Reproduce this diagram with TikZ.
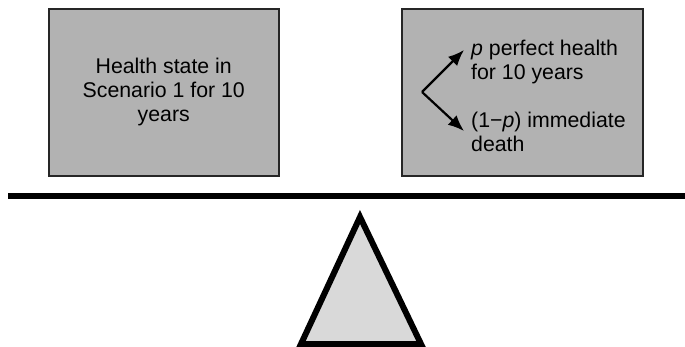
\documentclass[tikz,border=0pt]{standalone}
\usepackage{fontspec}
\setmainfont{Liberation Sans}
\usepackage{tikz}
\usetikzlibrary{arrows.meta}

\begin{document}
\begin{tikzpicture}[x=1pt,y=-1pt,
        caja/.style={draw=black!85, line width=1.5pt, fill=black!30,
                     minimum height=167pt, anchor=north west},
        texto/.style={font=\fontsize{21.3}{24}\selectfont, inner sep=0pt},
        flecha/.style={-{Latex[length=16pt,width=13pt]}, line width=2.2pt}]
        \useasboundingbox (0,0) rectangle (685,346);
        % Cajas de los dos escenarios
        \node[caja, minimum width=230pt] (estado) at (48,8) {};
        \node[caja, minimum width=241pt] (loteria) at (401,8) {};
        % Texto de la caja izquierda
        \node[texto, align=center] (estadoTxt) at (estado.center) {Health state in\\Scenario 1 for 10\\years};
        % Resultados de la loteria
        \node[texto, align=left, anchor=north west] (sano) at (471,40) {\textit{p} perfect health\\for 10 years};
        \node[texto, align=left, anchor=north west] (muerte) at (471,112) {(1−\textit{p}) immediate\\death};
        % Flechas de la loteria
        \coordinate (rama) at (422,92);
        \coordinate (puntaA) at (464,50);
        \coordinate (puntaB) at (464,131);
        \draw[flecha] (rama) -- (puntaA);
        \draw[flecha] (rama) -- (puntaB);
        % Balanza: viga y punto de apoyo
        \draw[line width=6pt] (8,195.5) -- (685,195.5);
        \draw[line width=6pt, fill=black!15] (360,217) -- (421,344) -- (301,344) -- cycle;
    \end{tikzpicture}
\end{document}
